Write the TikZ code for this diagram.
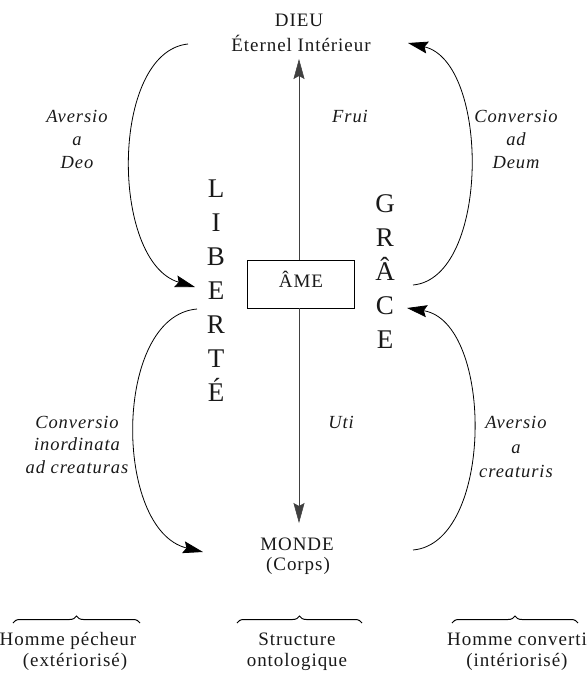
\documentclass[tikz,border=0pt]{standalone}
\usepackage{fontspec}
\setmainfont{Liberation Serif}[LetterSpace=5]
\usetikzlibrary{arrows.meta,decorations.pathreplacing}
\begin{document}
\begin{tikzpicture}[x=1pt,y=-1pt,
  txt/.style={anchor=base,inner sep=0pt,font=\fontsize{19}{22}\selectfont,text=black!90},
  lat/.style={anchor=base,inner sep=0pt,font=\fontsize{18.5}{22}\selectfont\itshape,text=black!90},
  big/.style={anchor=base,inner sep=0pt,font=\fontsize{27}{30}\selectfont,text=black!90},
  arc/.style={line width=0.8pt,-{Stealth[length=20pt,width=12pt,inset=3pt]}},
  axis/.style={line width=0.5pt,black!75,-{Stealth[length=20pt,width=11pt,inset=3pt]}},
  brc/.style={decorate,decoration={brace,amplitude=7pt},line width=1pt}
]
\useasboundingbox (0,0) rectangle (587,673);

% top and bottom poles
\node[txt] (dieu) at (299,26) {DIEU};
\node[txt] (eternel) at (301,51) {Éternel Intérieur};
\node[txt] (monde) at (297,550) {MONDE};
\node[txt] (corps) at (298,570) {(Corps)};

% soul box
\node[draw,line width=0.8pt,minimum width=107pt,minimum height=48pt,inner sep=0pt] (ame) at (300.5,284) {};
\node[txt] (amelabel) at (301,287) {ÂME};

% vertical axis
\coordinate (topTip) at (299,59);
\coordinate (botTip) at (299,523);
\draw[axis] (topTip |- ame.north) -- (topTip);
\draw[axis] (topTip |- ame.south) -- (botTip);

% LIBERTÉ
\node[big] (l1) at (216,197) {L};
\node[big] (l2) at (216,231) {I};
\node[big] (l3) at (216,265) {B};
\node[big] (l4) at (216,299) {E};
\node[big] (l5) at (216,333) {R};
\node[big] (l6) at (216,367) {T};
\node[big] (l7) at (216,401) {É};

% GRÂCE
\node[big] (g1) at (385,212) {G};
\node[big] (g2) at (385,246) {R};
\node[big] (g3) at (385,280) {Â};
\node[big] (g4) at (385,314) {C};
\node[big] (g5) at (385,348) {E};

% arcs
\coordinate (ulS) at (188,44);
\coordinate (ulE) at (195,287);
\draw[arc] (ulS) .. controls (110,52) and (110,262) .. (ulE);

\coordinate (urS) at (413,285);
\coordinate (urE) at (408,43);
\draw[arc] (urS) .. controls (490,278) and (490,62) .. (urE);

\coordinate (llS) at (197,309);
\coordinate (llE) at (203,552);
\draw[arc] (llS) .. controls (113,316) and (113,530) .. (llE);

\coordinate (lrS) at (413,550);
\coordinate (lrE) at (407,308);
\draw[arc] (lrS) .. controls (494,543) and (494,322) .. (lrE);

% latin labels
\node[lat] (ad1) at (77,122) {Aversio};
\node[lat] (ad2) at (77,145) {a};
\node[lat] (ad3) at (77,168) {Deo};
\node[lat] (cd1) at (516,122) {Conversio};
\node[lat] (cd2) at (516,145) {ad};
\node[lat] (cd3) at (516,168) {Deum};
\node[lat] (frui) at (350,122) {Frui};
\node[lat] (uti) at (341,428) {Uti};
\node[lat] (ci1) at (77,428) {Conversio};
\node[lat] (ci2) at (77,450) {inordinata};
\node[lat] (ci3) at (77,473) {ad creaturas};
\node[lat] (ac1) at (516,428) {Aversio};
\node[lat] (ac2) at (516,453) {a};
\node[lat] (ac3) at (516,477) {creaturis};

% braces
\draw[brc] (13,623) -- (140,623);
\draw[brc] (237,623) -- (362,623);
\draw[brc] (452,623) -- (578,623);

% bottom captions
\node[txt] (hp1) at (68,645) {Homme pécheur};
\node[txt] (hp2) at (75,666) {(extériorisé)};
\node[txt] (so1) at (297,645) {Structure};
\node[txt] (so2) at (297,666) {ontologique};
\node[txt] (hc1) at (517,645) {Homme converti};
\node[txt] (hc2) at (517,666) {(intériorisé)};
\end{tikzpicture}
\end{document}
